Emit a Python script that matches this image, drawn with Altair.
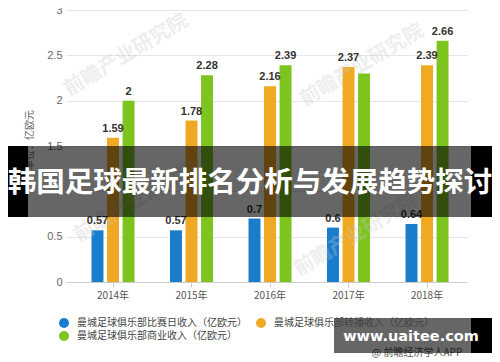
import altair as alt
import pandas as pd

years = ["2014年", "2015年", "2016年", "2017年", "2018年"]
series = [
    "曼城足球俱乐部比赛日收入（亿欧元）",
    "曼城足球俱乐部转播收入（亿欧元）",
    "曼城足球俱乐部商业收入（亿欧元）",
]
matchday = [0.57, 0.57, 0.7, 0.6, 0.64]
broadcast = [1.59, 1.78, 2.16, 2.37, 2.39]
commercial = [2.0, 2.28, 2.39, 2.3, 2.66]
matchday_labels = ["0.57", "0.57", "0.7", "0.6", "0.64"]
broadcast_labels = ["1.59", "1.78", "2.16", "2.37", "2.39"]
commercial_labels = ["2", "2.28", "2.39", "", "2.66"]
colors = ["#1a7dcc", "#f0a922", "#7dc41f"]
y_ticks = [0, 0.5, 1, 1.5, 2, 2.5, 3]

banner_text = "韩国足球最新排名分析与发展趋势探讨"
y_title = "单位：亿欧元"
site_text = "www.uaitee.com"
source_text = "@ 前瞻经济学人APP"
logo_text = "前瞻产业研究院"

rows = []
for vals, labs, s in [(matchday, matchday_labels, series[0]),
                      (broadcast, broadcast_labels, series[1]),
                      (commercial, commercial_labels, series[2])]:
    for yr, v, l in zip(years, vals, labs):
        rows.append({"year": yr, "series": s, "value": v, "label": l})
df = pd.DataFrame(rows)

CJK = "Noto Sans CJK SC"

x_enc = alt.X("year:N", sort=years, title=None,
              scale=alt.Scale(paddingInner=0.452, paddingOuter=0.28, align=0.58),
              axis=alt.Axis(labelAngle=0, labelFont=CJK, labelFontSize=10,
                            labelColor="#555555", domainColor="#cccccc",
                            tickColor="#cccccc", tickSize=5, labelPadding=3,
                            grid=False))
xo_enc = alt.XOffset("series:N", sort=series,
                     scale=alt.Scale(paddingInner=0.23, paddingOuter=0))
y_enc = alt.Y("value:Q", title=None,
              scale=alt.Scale(domain=[0, 3], nice=False),
              axis=alt.Axis(values=y_ticks, format="~g", labelFont="Liberation Sans",
                            labelFontSize=11, labelColor="#666666", domain=False,
                            ticks=False, labelPadding=4, gridColor="#e6e6e6",
                            gridWidth=1))

base = alt.Chart(df)
bars = base.mark_bar().encode(
    x=x_enc, xOffset=xo_enc, y=y_enc,
    color=alt.Color("series:N", sort=series,
                    scale=alt.Scale(domain=series, range=colors),
                    legend=alt.Legend(title=None, orient="none", legendX=-7,
                                      legendY=308, columns=2, direction="horizontal",
                                      padding=0,
                                      symbolType="circle", symbolSize=100,
                                      symbolStrokeWidth=0, labelFont=CJK,
                                      labelFontSize=10, labelColor="#444444",
                                      labelOffset=8, columnPadding=9,
                                      rowPadding=3, labelLimit=400)),
)
labels = base.mark_text(baseline="bottom", dy=-4, font="Liberation Sans",
                        fontWeight="bold", fontSize=11, color="#333333").encode(
    x=x_enc, xOffset=xo_enc, y=y_enc, text="label:N")

one = alt.Chart(pd.DataFrame({"k": [0]}))

def logo(px, py):
    return one.mark_text(angle=329, font=CJK, fontWeight="bold", fontSize=20,
                         color="#c8c8c8", opacity=0.3, baseline="middle").encode(
        x=alt.value(px), y=alt.value(py), text=alt.value(logo_text))

logos = [logo(60, 45), logo(296, 55), logo(70, 191), logo(290, 225)]

y_title_mark = one.mark_text(angle=270, font=CJK, fontSize=10, color="#666666").encode(
    x=alt.value(-36), y=alt.value(130), text=alt.value(y_title))

banner = one.mark_rect(color="#000000", opacity=0.6).encode(
    x=alt.value(-66), x2=alt.value(434), y=alt.value(136), y2=alt.value(207))
banner_l = one.mark_rect(color="#000000").encode(
    x=alt.value(-66), x2=alt.value(-38), y=alt.value(136), y2=alt.value(207))
banner_r = one.mark_rect(color="#000000").encode(
    x=alt.value(405), x2=alt.value(434), y=alt.value(136), y2=alt.value(207))
banner_t = one.mark_text(font=CJK, fontWeight="bold", fontSize=28.5, color="#ffffff",
                         baseline="middle").encode(
    x=alt.value(184), y=alt.value(173), text=alt.value(banner_text))

src = one.mark_text(font=CJK, fontSize=10, color="#555555", baseline="middle").encode(
    x=alt.value(351), y=alt.value(343), text=alt.value(source_text))
wm_box = one.mark_rect(color="#000000", opacity=0.6).encode(
    x=alt.value(268), x2=alt.value(405), y=alt.value(308), y2=alt.value(343))
wm_black = one.mark_rect(color="#000000").encode(
    x=alt.value(405), x2=alt.value(426), y=alt.value(308), y2=alt.value(343))
wm_text = one.mark_text(font="DejaVu Sans", fontWeight="bold", fontSize=14.5,
                        color="#ffffff", baseline="middle").encode(
    x=alt.value(345), y=alt.value(327), text=alt.value(site_text))

chart = alt.layer(bars, *logos, labels, y_title_mark, banner, banner_l, banner_r,
                  banner_t, src, wm_box, wm_black, wm_text).properties(
    width=401, height=272,
    autosize=alt.AutoSizeParams(type="none"),
    padding={"left": 58, "top": 2, "right": 25, "bottom": 80},
    background="#ffffff",
).configure_view(stroke=None)

chart.save("out.html", embed_options={"renderer": "svg", "actions": False})
